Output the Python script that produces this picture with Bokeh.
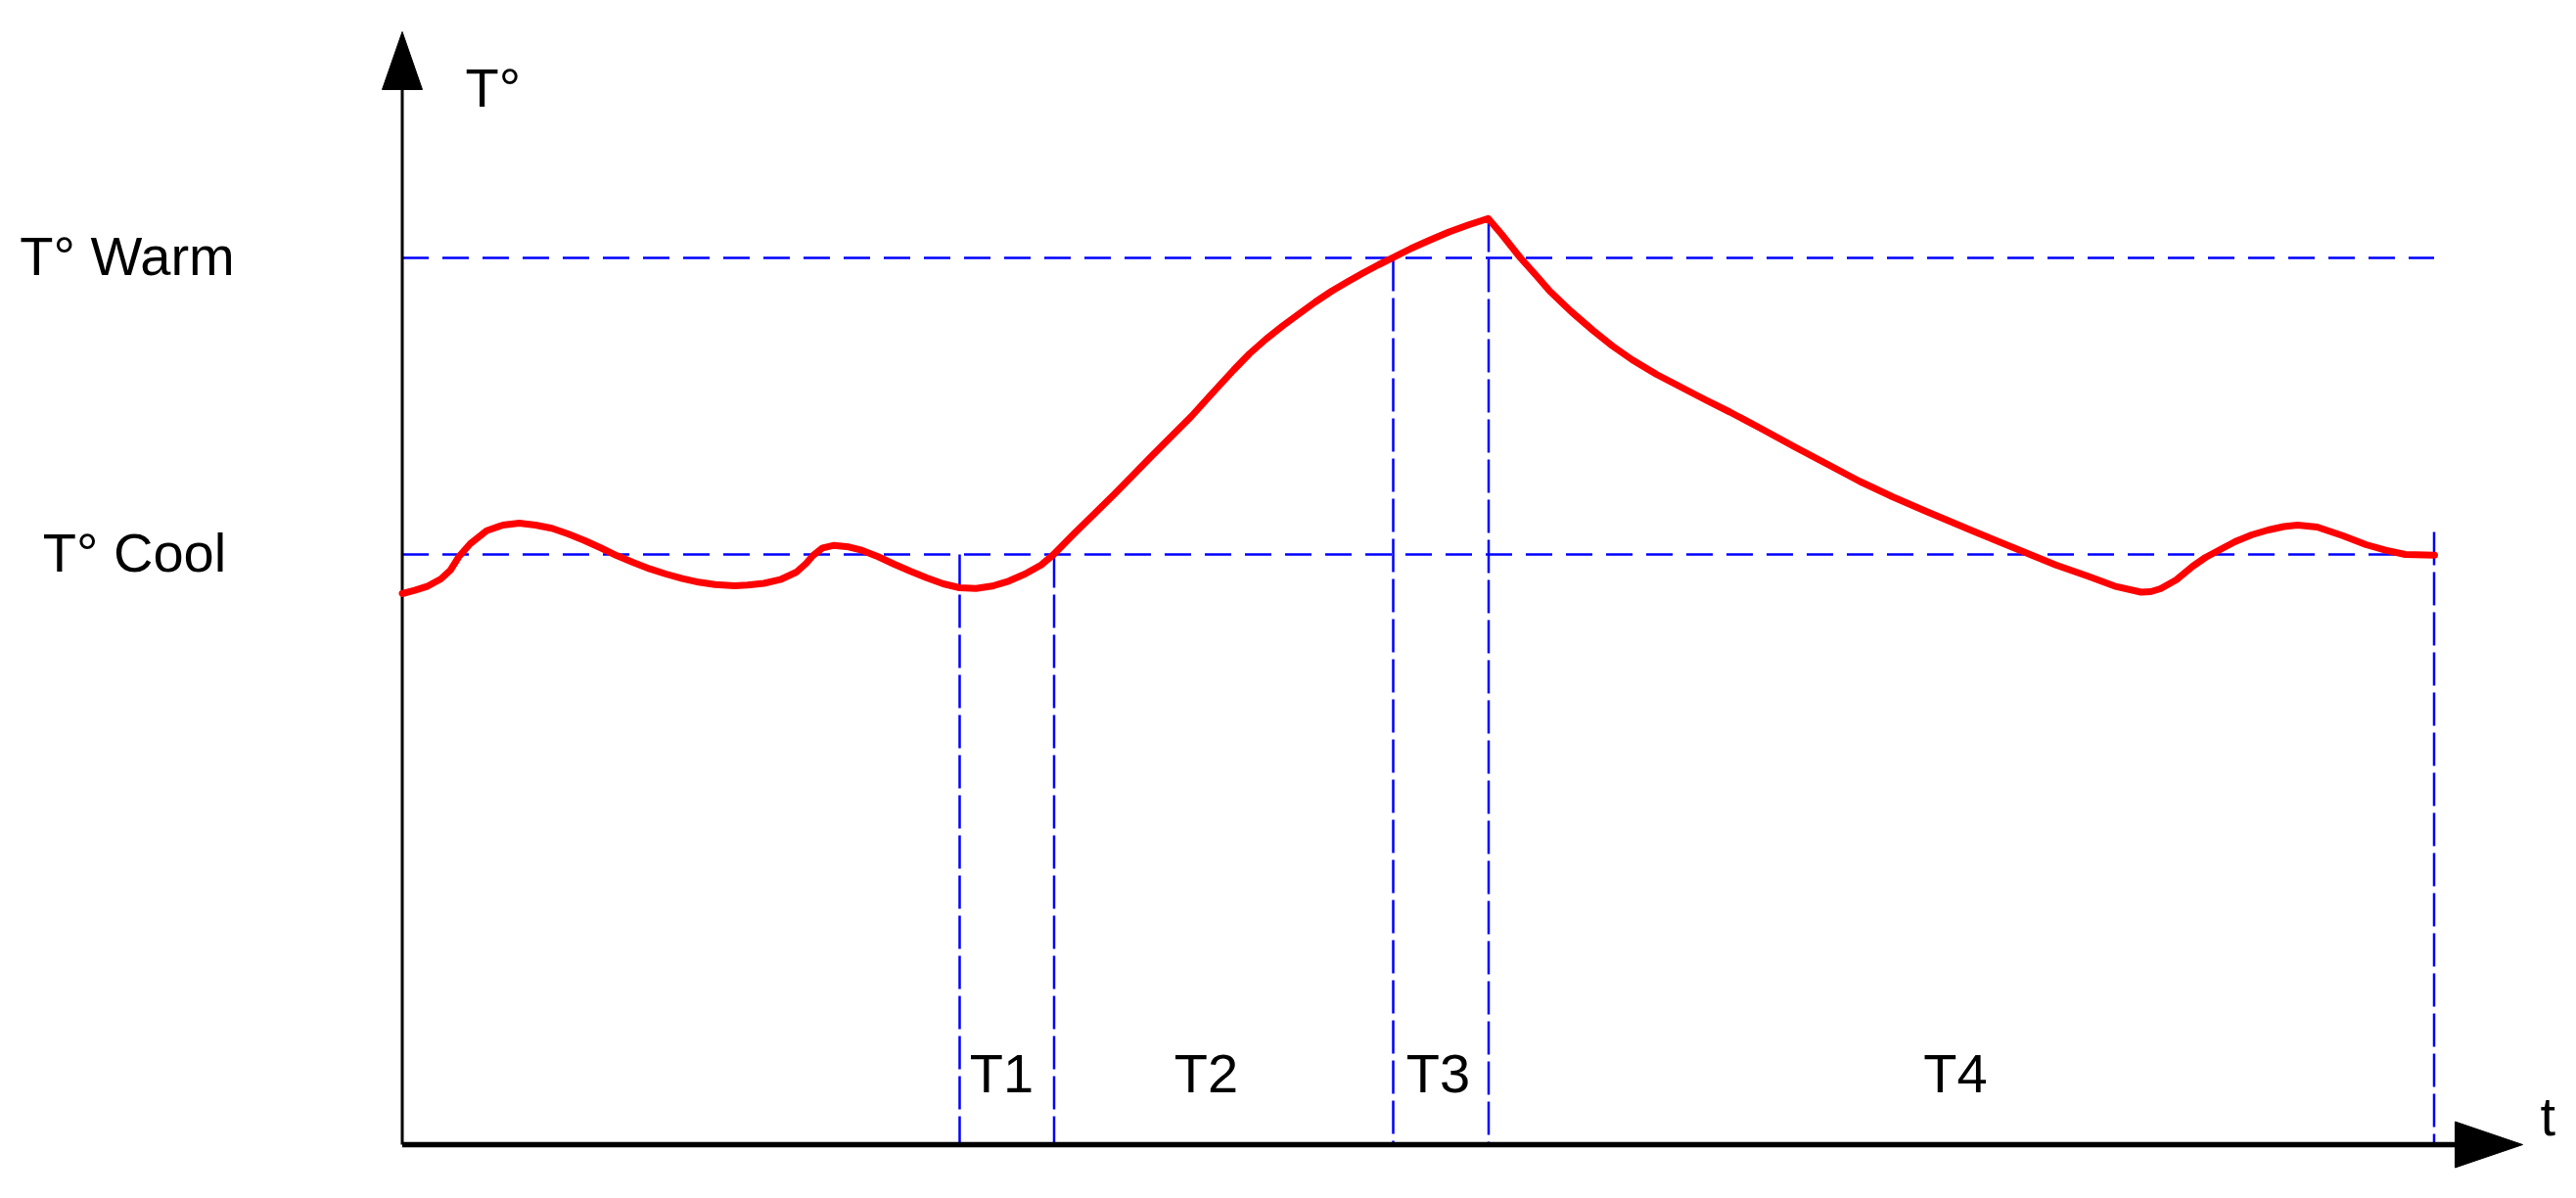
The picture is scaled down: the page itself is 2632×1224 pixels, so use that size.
from bokeh.plotting import figure
from bokeh.models import ColumnDataSource, Range1d
from bokeh.core.properties import value
from bokeh.embed import file_html
from bokeh.resources import INLINE

# ---------------- data (time t, temperature T, arbitrary units) ----------------
curve_t = [0.0, 1.28, 2.62, 3.95, 4.95, 5.78, 6.95, 8.62, 10.28, 11.95, 13.62, 15.28,
           16.95, 18.62, 20.28, 21.95, 23.62, 25.28, 26.95, 28.62, 30.28, 31.95, 33.95,
           35.28, 36.95, 38.62, 40.28, 41.28, 41.95, 42.95, 44.12, 45.62, 46.95, 48.62,
           50.28, 51.95, 53.62, 55.28, 56.95, 58.62, 60.28, 61.95, 63.62, 65.28, 66.55,
           68.62, 72.75, 76.62, 80.62, 82.65, 84.95, 86.55, 88.25, 89.95, 91.65, 93.3,
           94.95, 96.65, 98.25, 99.75, 101.25, 103.05, 104.95, 106.95, 108.95, 110.95,
           112.28, 114.25, 115.95, 117.25, 119.45, 121.65, 123.65, 125.65, 128.15, 130.65,
           133.15, 135.65, 138.95, 142.25, 145.65, 148.95, 152.25, 155.65, 160.65, 165.65,
           168.95, 172.25, 174.95, 177.65, 178.65, 179.65, 181.25, 182.95, 184.25, 185.65,
           187.25, 188.95, 190.65, 192.25, 193.65, 195.65, 198.25, 200.65, 202.65, 204.65,
           207.65]
curve_T = [56.3, 56.63, 57.07, 57.8, 58.73, 60.07, 61.4, 62.73, 63.3, 63.5, 63.3, 62.97,
           62.4, 61.73, 60.97, 60.17, 59.47, 58.83, 58.3, 57.83, 57.47, 57.23, 57.1,
           57.17, 57.35, 57.73, 58.5, 59.4, 60.17, 60.97, 61.23, 61.07, 60.73, 60.07,
           59.3, 58.57, 57.9, 57.3, 56.9, 56.83, 57.07, 57.57, 58.3, 59.23, 60.3,
           62.4, 66.45, 70.4, 74.4, 76.65, 79.15, 80.8, 82.3, 83.65, 84.9, 86.1,
           87.2, 88.2, 89.1, 89.9, 90.63, 91.55, 92.4, 93.25, 93.97, 94.63,
           93.07, 90.6, 88.7, 87.2, 85.1, 83.2, 81.6, 80.2, 78.7, 77.4,
           76.1, 74.85, 73.1, 71.3, 69.5, 67.75, 66.2, 64.73, 62.63, 60.57,
           59.23, 58.07, 57.07, 56.45, 56.5, 56.8, 57.7, 59.1, 60.0, 60.75,
           61.6, 62.3, 62.8, 63.15, 63.3, 63.1, 62.23, 61.3, 60.73, 60.3,
           60.23]

level_names = ["T° Warm", "T° Cool"]
level_values = [90.6, 60.3]
level_label_t = [-28.1, -27.35]

phase_bounds = [56.95, 66.6, 101.25, 111.0, 207.6]
phase_tops = [60.3, 60.3, 90.6, 94.6, 62.6]
phase_labels = ["T1", "T2", "T3", "T4"]
phase_label_t = [61.25, 82.15, 105.85, 158.7]

t_axis_end = 216.65   # tip of the time arrow
T_axis_end = 113.7    # tip of the temperature arrow
axis_labels = ["T°", "t"]

# ---------------- figure ----------------
p = figure(width=2616, height=1208, x_range=Range1d(-41.05, 220.55),
           y_range=Range1d(-3.9, 116.9), output_backend="svg", toolbar_location=None,
           x_axis_location=None, y_axis_location=None, min_border=0)
p.grid.visible = False
p.outline_line_color = None
p.background_fill_color = "white"

FONT = value("Liberation Sans")
FSIZE = value("56px")

# horizontal dashed levels
t_end = phase_bounds[-1]
p.multi_line(xs=[[0, t_end] for _ in level_values], ys=[[v, v] for v in level_values],
             line_color="#0000FF", line_width=2.5, line_dash="27 14")

# vertical dashed phase bounds (drawn top -> bottom)
p.multi_line(xs=[[b, b] for b in phase_bounds], ys=[[top, 0] for top in phase_tops],
             line_color="#0000FF", line_width=2.5, line_dash="34 7")

# axes
head_len_T = 5.9
head_half_t = 2.05
head_len_t = 6.9
head_half_T = 2.35
p.line([0, 0], [0, T_axis_end - head_len_T + 0.5], line_color="black", line_width=3)
p.line([0, t_axis_end - head_len_t + 0.5], [0, 0], line_color="black", line_width=5.5)
p.patch([0, -head_half_t, head_half_t], [T_axis_end, T_axis_end - head_len_T, T_axis_end - head_len_T],
        fill_color="black", line_color="black", line_width=1)
p.patch([t_axis_end, t_axis_end - head_len_t, t_axis_end - head_len_t], [0, head_half_T, -head_half_T],
        fill_color="black", line_color="black", line_width=1)

# temperature curve
p.line(curve_t, curve_T, line_color="#FF0000", line_width=7, line_join="round", line_cap="round")

# texts (vertically centred on the capital letters)
lvl_src = ColumnDataSource(dict(x=level_label_t, y=[v + 0.2 for v in level_values], text=level_names))
p.text(x="x", y="y", text="text", source=lvl_src, text_font=FONT, text_font_size=FSIZE,
       text_align="center", text_baseline="middle", text_color="black")

ph_src = ColumnDataSource(dict(x=phase_label_t, y=[7.3] * len(phase_labels), text=phase_labels))
p.text(x="x", y="y", text="text", source=ph_src, text_font=FONT, text_font_size=FSIZE,
       text_align="center", text_baseline="middle", text_color="black")

ax_src = ColumnDataSource(dict(x=[6.45, 218.45], y=[108.05, 2.9], text=axis_labels))
p.text(x="x", y="y", text="text", source=ax_src, text_font=FONT, text_font_size=FSIZE,
       text_align="left", text_baseline="middle", text_color="black")

open("out.html", "w").write(file_html(p, INLINE))
